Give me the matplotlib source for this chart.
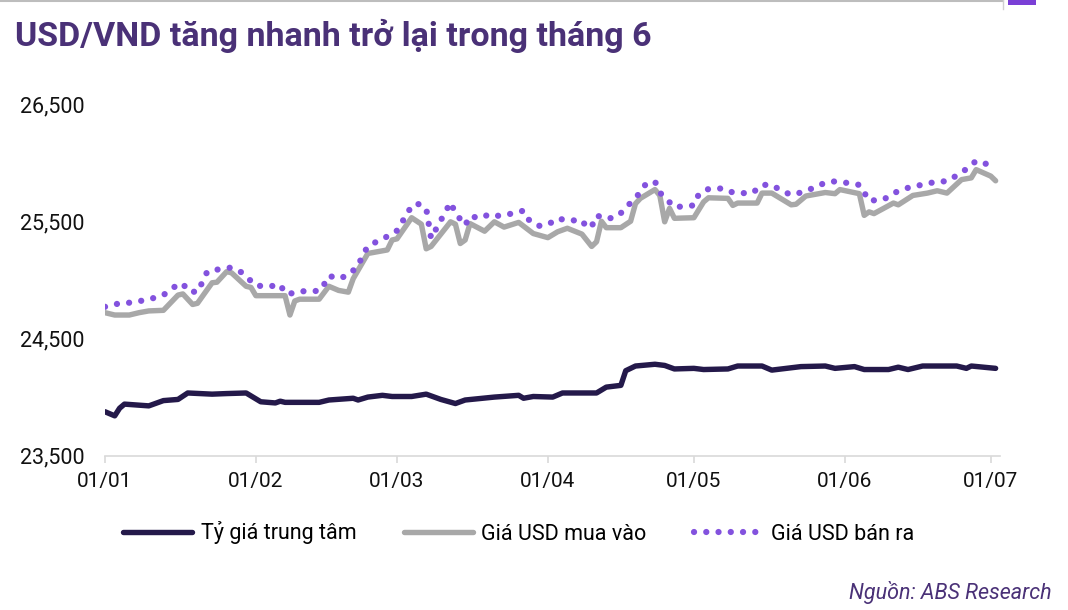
import matplotlib
matplotlib.use("Agg")
import matplotlib.pyplot as plt
import matplotlib.dates as mdates
import matplotlib.ticker as mticker
import pandas as pd
from matplotlib.lines import Line2D
from matplotlib.patches import Rectangle

plt.rcParams['font.family'] = ['Roboto', 'DejaVu Sans']

START = "2024-01-01"

# Tỷ giá trung tâm (days since 01/01, VND)
central_days = [0, 2, 3, 4, 9, 12, 15, 17, 22, 25, 29, 32, 35, 36, 37, 44, 46, 51, 52, 54,
                57, 59, 63, 66, 69, 72, 74, 80, 85, 86, 88, 92, 94, 101, 103, 106, 107, 109,
                113, 115, 117, 121, 123, 128, 130, 135, 137, 143, 148, 150, 154, 156, 161,
                163, 165, 168, 175, 177, 178, 183]
central_vals = [23875, 23840, 23905, 23940, 23925, 23970, 23980, 24035, 24025, 24030, 24035,
                23960, 23950, 23965, 23955, 23955, 23975, 23990, 23975, 24000, 24015, 24005,
                24005, 24025, 23980, 23945, 23975, 24000, 24015, 23990, 24005, 24000, 24035,
                24035, 24085, 24100, 24225, 24265, 24280, 24270, 24240, 24245, 24235, 24240,
                24265, 24265, 24230, 24260, 24265, 24245, 24260, 24235, 24235, 24255, 24235,
                24265, 24265, 24245, 24265, 24245]

# Giá USD mua vào
buy_days = [0, 2, 5, 7, 9, 12, 15, 16, 18, 19, 22, 23, 25, 26, 29, 30, 31, 37, 38, 39, 40, 44,
            46, 48, 50, 51, 54, 58, 59, 60, 63, 65, 66, 67, 71, 72, 73, 74, 75, 78, 80, 82, 85,
            88, 91, 93, 95, 98, 100, 101, 102, 103, 106, 108, 109, 110, 113, 114, 115, 116,
            117, 121, 123, 124, 128, 129, 130, 134, 135, 137, 141, 142, 144, 146, 148, 150,
            151, 155, 156, 157, 158, 162, 163, 166, 169, 171, 173, 176, 178, 179, 182, 183]
buy_vals = [24720, 24700, 24700, 24720, 24735, 24740, 24870, 24880, 24790, 24800, 24975, 24980,
            25070, 25060, 24945, 24935, 24865, 24865, 24700, 24820, 24835, 24835, 24945, 24910,
            24895, 25010, 25225, 25255, 25340, 25350, 25530, 25475, 25265, 25285, 25495, 25475,
            25310, 25340, 25480, 25415, 25495, 25450, 25490, 25395, 25360, 25410, 25440, 25390,
            25285, 25325, 25500, 25445, 25445, 25500, 25650, 25695, 25770, 25720, 25495, 25610,
            25525, 25530, 25665, 25700, 25695, 25635, 25655, 25655, 25740, 25740, 25640, 25645,
            25715, 25730, 25745, 25735, 25770, 25735, 25550, 25580, 25565, 25655, 25640, 25720,
            25740, 25760, 25740, 25855, 25870, 25940, 25885, 25845]

# Giá USD bán ra
sell_days = [0, 3, 5, 8, 10, 12, 14, 16, 17, 19, 20, 21, 24, 26, 28, 30, 31, 34, 36, 37, 39, 41,
             44, 45, 46, 48, 50, 52, 53, 54, 56, 58, 60, 61, 62, 64, 66, 67, 71, 72, 74, 75, 77,
             79, 81, 83, 86, 87, 89, 91, 93, 95, 98, 99, 100, 101, 103, 105, 107, 108, 110, 111,
             113, 114, 117, 121, 122, 124, 127, 129, 131, 133, 135, 137, 139, 141, 143, 146, 148,
             150, 152, 155, 156, 157, 160, 162, 164, 166, 168, 171, 173, 175, 177, 179, 181, 183]
sell_vals = [24770, 24800, 24805, 24825, 24845, 24870, 24935, 24970, 24905, 24895, 24980, 25070,
             25095, 25105, 25065, 24990, 24950, 24945, 24960, 24885, 24885, 24905, 24905, 24960,
             25035, 25010, 25040, 25120, 25215, 25285, 25330, 25370, 25420, 25485, 25575, 25655,
             25610, 25355, 25660, 25570, 25465, 25545, 25525, 25560, 25545, 25560, 25590, 25515,
             25460, 25470, 25525, 25505, 25510, 25445, 25455, 25550, 25520, 25535, 25605, 25660,
             25745, 25810, 25840, 25745, 25620, 25635, 25730, 25775, 25780, 25745, 25740, 25740,
             25810, 25810, 25760, 25725, 25745, 25790, 25830, 25840, 25830, 25810, 25745, 25675,
             25685, 25740, 25770, 25800, 25810, 25840, 25840, 25890, 25945, 26015, 25990, 25955]

y_ticks = [23500, 24500, 25500, 26500]
x_tick_days = [0, 31, 60, 91, 121, 152, 182]
x_end_day = 183.9

series_names = ["Tỷ giá trung tâm", "Giá USD mua vào", "Giá USD bán ra"]
title_text = "USD/VND tăng nhanh trở lại trong tháng 6"
source_text = "Nguồn: ABS Research"

C_CENTRAL = "#24194A"
C_BUY = "#A8A8A8"
C_SELL = "#8352DE"
C_TITLE = "#4A3177"


def to_dates(days):
    return pd.Timestamp(START) + pd.to_timedelta(days, unit="D")


W, H = 1068, 610
fig = plt.figure(figsize=(W / 100, H / 100), dpi=100)
ax_l, ax_r, ax_b, ax_t = 105, 1000, 455.7, 104
ax = fig.add_axes([ax_l / W, 1 - ax_b / H, (ax_r - ax_l) / W, (ax_b - ax_t) / H])

ax.plot(to_dates(central_days), central_vals, color=C_CENTRAL, lw=3.9,
        solid_capstyle="round", solid_joinstyle="round", zorder=3)
ax.plot(to_dates(buy_days), buy_vals, color=C_BUY, lw=3.9,
        solid_capstyle="round", solid_joinstyle="round", zorder=3)
ax.plot(to_dates(sell_days), sell_vals, color=C_SELL, lw=4.5,
        linestyle=(0, (0.01, 1.95)), dash_capstyle="round", zorder=4)

ax.set_ylim(y_ticks[0], y_ticks[-1])
ax.set_yticks(y_ticks)
ax.yaxis.set_major_formatter(mticker.FuncFormatter(lambda v, p: f"{int(v):,}"))
ax.set_xlim(to_dates([0])[0], to_dates([x_end_day])[0])
ax.set_xticks(to_dates(x_tick_days))
ax.xaxis.set_major_formatter(mdates.DateFormatter("%d/%m"))

for s in ["top", "right", "left"]:
    ax.spines[s].set_visible(False)
ax.spines["bottom"].set_color("#D9D9D9")
ax.spines["bottom"].set_linewidth(1.2)
ax.tick_params(axis="x", length=5, width=1.2, color="#D9D9D9", pad=7,
               labelsize=15, labelcolor="#111111")
ax.tick_params(axis="y", length=0, pad=15, labelsize=15.5, labelcolor="#111111")

fig.text(15 / W, 1 - 36 / H, title_text, fontsize=24.5, fontweight="bold",
         color=C_TITLE, ha="left", va="center")
fig.text(1052 / W, 1 - 592 / H, source_text, fontsize=15.5, style="italic",
         color=C_TITLE, ha="right", va="center")

handles = [
    Line2D([], [], color=C_CENTRAL, lw=3.9, solid_capstyle="round"),
    Line2D([], [], color=C_BUY, lw=3.9, solid_capstyle="round"),
    Line2D([], [], color=C_SELL, lw=4.5, linestyle=(0, (0.01, 1.95)), dash_capstyle="round"),
]
fig.legend(handles, series_names, loc="center", bbox_to_anchor=(519 / W, 1 - 533 / H),
           ncol=3, frameon=False, fontsize=15.5, handlelength=3.2, handletextpad=0.4,
           columnspacing=2.2)

# screenshot frame remnants at the top edge
fig.add_artist(Line2D([0, 1003 / W], [1 - 1 / H, 1 - 1 / H], color="#BDBDBD", lw=1.5))
fig.add_artist(Line2D([1003 / W, 1003 / W], [1, 1 - 9 / H], color="#D0D0D0", lw=1.0))
fig.add_artist(Rectangle((1008 / W, 1 - 5 / H), 28 / W, 5 / H, transform=fig.transFigure,
                         color="#7A3FD6", lw=0))

fig.savefig("out.png", dpi=100)
